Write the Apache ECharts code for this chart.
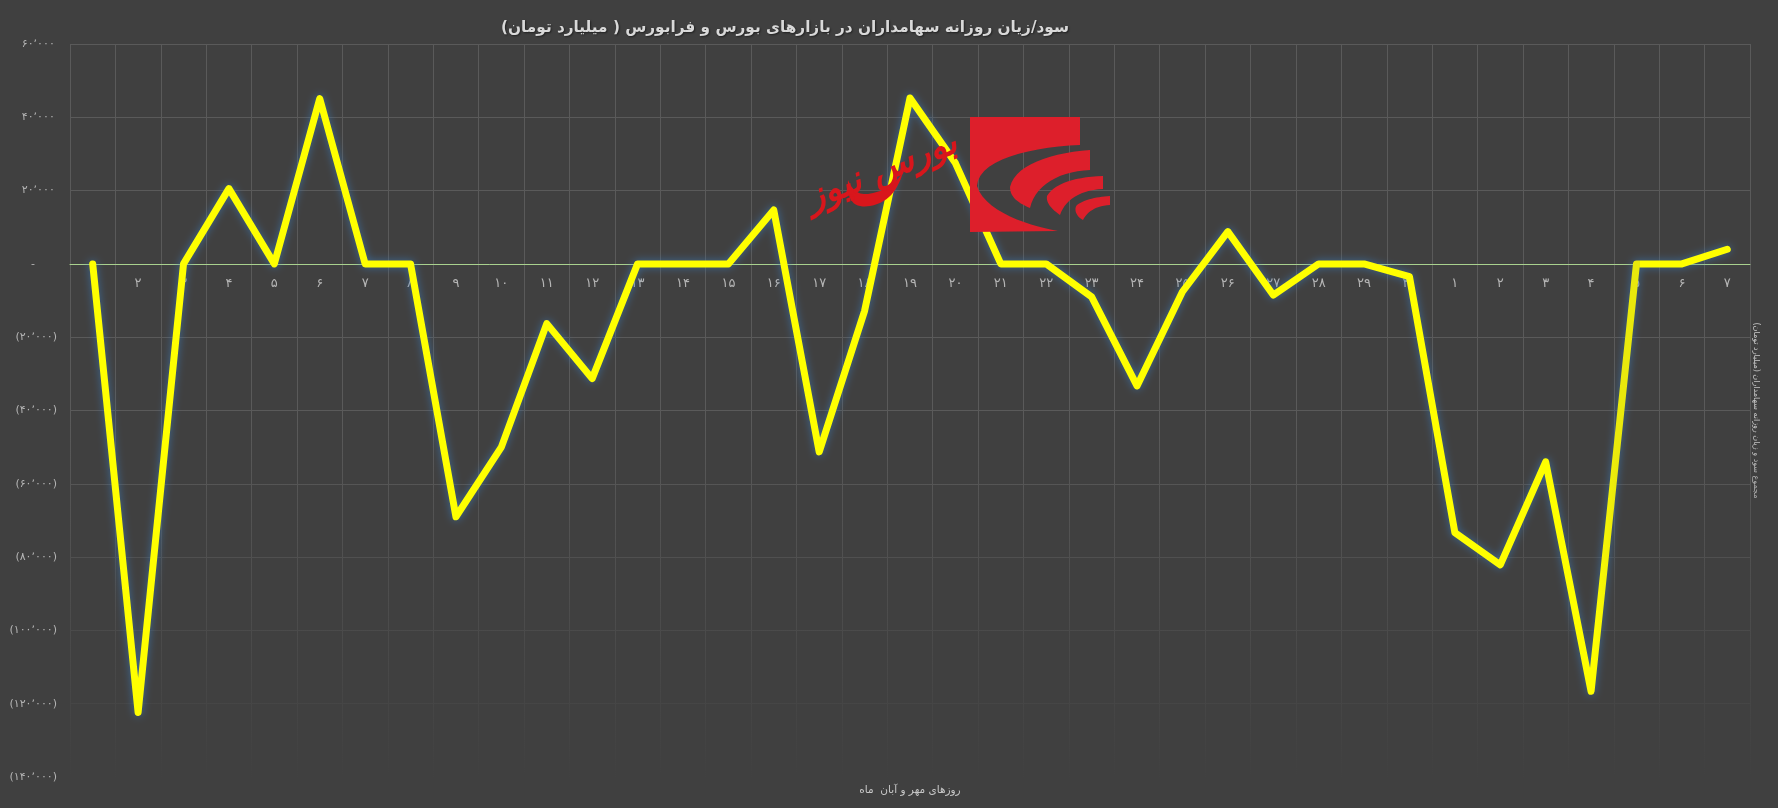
<!DOCTYPE html>
<html><head><meta charset="utf-8">
<style>html,body{margin:0;padding:0;background:#404040}#c{width:1778px;height:808px}</style>
<script src="https://cdn.jsdelivr.net/npm/echarts@6/dist/echarts.min.js"></script>
</head><body><div id="c"></div>
<script>
const titleText = 'سود/زیان روزانه سهامداران در بازارهای بورس و فرابورس ( میلیارد تومان)';
const xName = 'روزهای مهر و آبان  ماه';
const yName = 'مجموع سود و زیان روزانه سهامداران (میلیارد تومان)';
const logoText = 'بورس نیوز';
const days = ['۱','۲','۳','۴','۵','۶','۷','۸','۹','۱۰','۱۱','۱۲','۱۳','۱۴','۱۵','۱۶','۱۷','۱۸','۱۹','۲۰','۲۱','۲۲','۲۳','۲۴','۲۵','۲۶','۲۷','۲۸','۲۹','۳۰','۱','۲','۳','۴','۵','۶','۷'];
const profit = [0,-122400,0,20550,0,45100,0,0,-69000,-50000,-16300,-31300,0,0,0,14700,-51300,-12800,45270,27500,0,0,-9000,-33300,-7600,8800,-8500,0,0,-3500,-73300,-82100,-54000,-116600,0,0,4000];
const yTickValues = [60000,40000,20000,0,-20000,-40000,-60000,-80000,-100000,-120000,-140000];
const yTickLabels = ['۶۰٬۰۰۰\u2009','۴۰٬۰۰۰\u2009','۲۰٬۰۰۰\u2009','-\u2003\u2003','(۲۰٬۰۰۰)','(۴۰٬۰۰۰)','(۶۰٬۰۰۰)','(۸۰٬۰۰۰)','(۱۰۰٬۰۰۰)','(۱۲۰٬۰۰۰)','(۱۴۰٬۰۰۰)'];
const logoShapes = [
 'M970 117 L1080 117 L1080 145 C1030 147 978 160 977 186 C985 212 1030 226 1058 231 L970 232 Z',
 'M1090 150 L1090 170 C1060 171 1035 185 1030 208 C1018 203 1010 197 1010 187 C1015 165 1050 153 1090 150 Z',
 'M1103 176 L1103 189 C1080 190 1065 200 1060 215 C1050 208 1046 202 1047 196 C1055 183 1075 177 1103 176 Z',
 'M1110 196 L1110 205 C1095 206 1087 212 1083 220 C1075 216 1074 208 1077 205 C1085 199 1097 197 1110 196 Z'];
const logoSwash = 'M848 180 C846 205 858 208 870 206 C888 203 898 190 903 172 C893 188 880 192 868 194 C858 195 852 190 848 180 Z';

function outline(d){
  const t=d.match(/[MLCZ]|-?[\d.]+/g); const pts=[]; let i=0,cur=[0,0],cmd='';
  while(i<t.length){
    if(/[MLCZ]/.test(t[i])){cmd=t[i++]; if(cmd==='Z')break;}
    if(cmd==='C'){
      const a=[+t[i],+t[i+1]],b=[+t[i+2],+t[i+3]],e=[+t[i+4],+t[i+5]]; i+=6;
      for(let k=1;k<=14;k++){const u=k/14,v=1-u;
        pts.push([v*v*v*cur[0]+3*v*v*u*a[0]+3*v*u*u*b[0]+u*u*u*e[0],v*v*v*cur[1]+3*v*v*u*a[1]+3*v*u*u*b[1]+u*u*u*e[1]]);}
      cur=e;
    } else {cur=[+t[i],+t[i+1]];i+=2;pts.push(cur);}
  }
  return pts;
}
const FONT = '"DejaVu Sans"';
const BG = '#404040';
const n = days.length-1;
const lineColor = new echarts.graphic.LinearGradient(0,0,1,0,[
  {offset:0,color:'#ffff00'},{offset:33/n,color:'#ffff00'},{offset:33.5/n,color:'#e9e90c'},
  {offset:34/n,color:'#e9e90c'},{offset:34/n,color:'#ffff00'},{offset:1,color:'#ffff00'}]);
const chart = echarts.init(document.getElementById('c'), null, {renderer:'canvas'});
chart.setOption({
  animation:false,
  backgroundColor:BG,
  textStyle:{fontFamily:FONT},
  title:{text:titleText,left:780,top:16,textAlign:'center',
    textStyle:{fontFamily:FONT,fontSize:15.3,fontWeight:'bold',color:'#d9d9d9',textShadowColor:'rgba(0,0,0,0.5)',textShadowBlur:2,textShadowOffsetX:1,textShadowOffsetY:1}},
  grid:{left:70,right:28,top:44,height:733,outerBoundsMode:'none'},
  xAxis:{type:'category',data:days,boundaryGap:true,position:'bottom',offset:-513,
    axisLine:{onZero:false,lineStyle:{color:'#a9d18e',width:1}},
    axisTick:{show:false},
    axisLabel:{interval:0,color:'#b5b5b5',fontSize:13,margin:13,fontFamily:FONT},
    splitLine:{show:true,interval:0,lineStyle:{color:'#5a5a5a',width:1}},
    name:xName,nameLocation:'middle',nameGap:521,nameMoveOverlap:false,
    nameTextStyle:{color:'#c8c8c8',fontSize:10.5,fontFamily:FONT}},
  yAxis:[{type:'value',min:-140000,max:60000,interval:20000,
    axisLine:{show:false},axisTick:{show:false},
    axisLabel:{margin:13,color:'#b5b5b5',fontSize:11,fontFamily:FONT,
      formatter:v=>yTickLabels[yTickValues.indexOf(v)]},
    splitLine:{show:true,lineStyle:{color:'#5a5a5a',width:1}}},
   {type:'value',min:-140000,max:60000,interval:20000,position:'right',
    axisLine:{show:false},axisTick:{show:false},axisLabel:{show:false},splitLine:{show:false},
    name:yName,nameLocation:'middle',nameRotate:-90,nameGap:2,
    nameTextStyle:{color:'#c8c8c8',fontSize:8,fontFamily:FONT}}],
  series:[{type:'line',data:profit,symbol:'none',smooth:false,z:2,
    lineStyle:{width:7,color:lineColor,cap:'round',join:'round',
      shadowColor:'rgba(60,120,180,0.75)',shadowBlur:9}}],
  graphic:{elements:[
    {type:'rect',z:1,silent:true,shape:{x:60,y:420,width:1700,height:360},
     style:{fill:new echarts.graphic.LinearGradient(0,0,0,1,[
       {offset:0,color:'rgba(64,64,64,0)'},{offset:1,color:'rgba(64,64,64,1)'}])}},
    ...logoShapes.map(d=>({type:'polygon',z:10,silent:true,shape:{points:outline(d)},style:{fill:'#dd1f2b'}})),
    {type:'polygon',z:11,silent:true,shape:{points:outline(logoSwash)},style:{fill:'#d8161c'}},
    {type:'text',z:11,silent:true,x:882,y:172,rotation:0.38,
     style:{text:logoText,fill:'#d8161c',font:'italic bold 36px "DejaVu Sans"',align:'center',verticalAlign:'middle'}}
  ]}
});
</script></body></html>
